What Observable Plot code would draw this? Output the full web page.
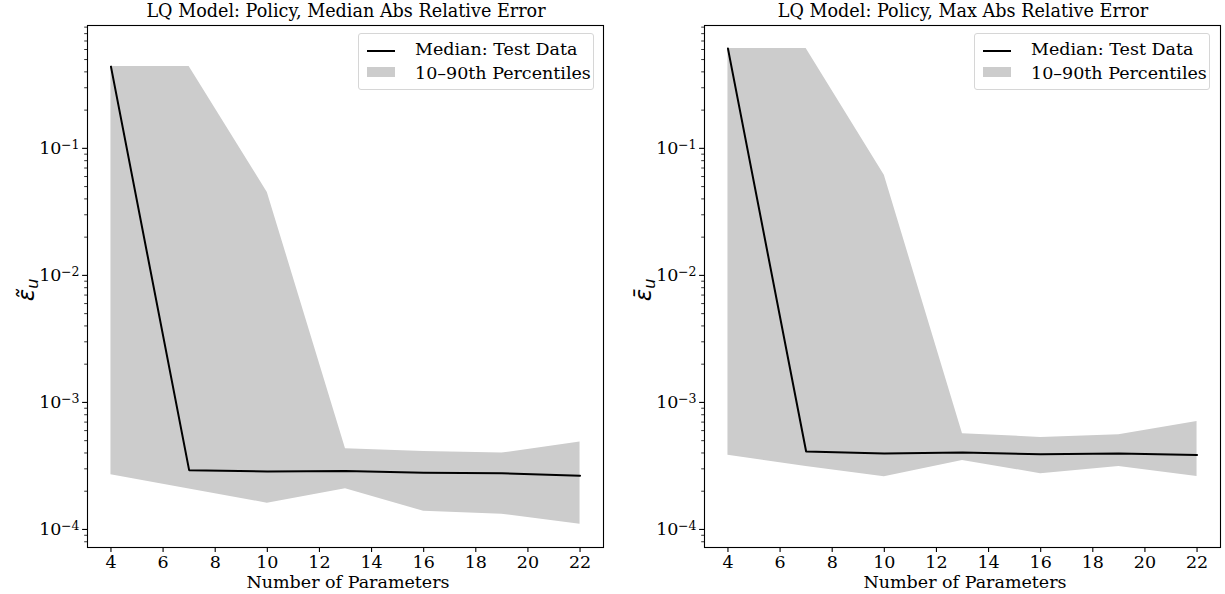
<!DOCTYPE html>
<html>
<head>
<meta charset="utf-8">
<script src="https://cdn.jsdelivr.net/npm/d3@7"></script>
<script src="https://cdn.jsdelivr.net/npm/@observablehq/plot@0.6"></script>
<style>
  body { margin: 0; background: #fff; }
  #wrap { position: relative; width: 1225px; height: 594px; overflow: hidden; font-family: "DejaVu Serif", serif; }
  .panel { position: absolute; top: 0; }
  .title { position: absolute; font-size: 17.6px; color: #000; white-space: nowrap; transform: translateX(-50%); }
  .xlabel { position: absolute; font-size: 17.5px; color: #000; white-space: nowrap; transform: translateX(-50%); }
  .ylabel { position: absolute; font-family: "DejaVu Sans", sans-serif; font-size: 23px; font-style: italic; white-space: nowrap; transform: translate(-50%, -50%) rotate(-90deg); }
  .ylabel sub { font-size: 16px; vertical-align: -4px; }
  .legend { position: absolute; border: 1px solid #d6d6d6; border-radius: 3px; background: rgba(255,255,255,0.8); font-size: 17.5px; box-sizing: border-box; }
  .legend .ln { position: absolute; height: 2px; background: #000; }
  .legend .patch { position: absolute; background: #cccccc; }
  .legend .txt { position: absolute; white-space: nowrap; }
</style>
</head>
<body>
<div id="wrap"></div>
<script>
// ---- data ----
const params = [4, 7, 10, 13, 16, 19, 22];
const medianMedErr = [0.44, 2.93e-4, 2.86e-4, 2.88e-4, 2.79e-4, 2.77e-4, 2.65e-4];
const p10MedErr    = [2.70e-4, 2.08e-4, 1.61e-4, 2.09e-4, 1.39e-4, 1.32e-4, 1.10e-4];
const p90MedErr    = [0.44, 0.44, 0.045, 4.32e-4, 4.11e-4, 3.99e-4, 4.87e-4];
const medianMaxErr = [0.61, 4.11e-4, 3.96e-4, 4.03e-4, 3.90e-4, 3.96e-4, 3.85e-4];
const p10MaxErr    = [3.83e-4, 3.13e-4, 2.60e-4, 3.49e-4, 2.75e-4, 3.13e-4, 2.61e-4];
const p90MaxErr    = [0.61, 0.61, 0.0613, 5.68e-4, 5.30e-4, 5.57e-4, 7.08e-4];
const xTicks = [4, 6, 8, 10, 12, 14, 16, 18, 20, 22];
const yMajor = [1e-4, 1e-3, 1e-2, 1e-1];
const yMajorBase = "10";
const yMajorExp = ["\u22124", "\u22123", "\u22122", "\u22121"];
const titles = ["LQ Model: Policy, Median Abs Relative Error", "LQ Model: Policy, Max Abs Relative Error"];
const legendLabels = ["Median: Test Data", "10\u201390th Percentiles"];
const xLabel = "Number of Parameters";

const yMinor = [];
for (let e = -5; e <= 0; e++) for (let m = 2; m <= 9; m++) {
  const v = m * Math.pow(10, e);
  if (v > 7.21e-5 && v < 0.927) yMinor.push(v);
}

const panels = [
  { left: 0, width: 612, ml: 87, mr: 9, med: medianMedErr, lo: p10MedErr, hi: p90MedErr, title: titles[0], accent: "\u0303", legLeft: 358 },
  { left: 612, width: 613, ml: 92, mr: 5, med: medianMaxErr, lo: p10MaxErr, hi: p90MaxErr, title: titles[1], accent: "\u0304", legLeft: 974 }
];
const H = 594, MT = 25, MB = 47;
const wrap = document.getElementById("wrap");
const majorRows = yMajor.map((v, i) => ({ v, exp: yMajorExp[i] }));

panels.forEach((p) => {
  const rows = params.map((x, i) => ({ x, med: p.med[i], lo: p.lo[i], hi: p.hi[i] }));
  const chart = Plot.plot({
    width: p.width, height: H,
    marginLeft: p.ml, marginRight: p.mr, marginTop: MT, marginBottom: MB,
    style: { fontFamily: "DejaVu Serif", fontSize: "17.5px", color: "#000", background: "transparent" },
    x: { domain: [3.1, 22.9] },
    y: { type: "log", domain: [7.21e-5, 0.927] },
    marks: [
      Plot.areaY(rows, { x: "x", y1: "lo", y2: "hi", fill: "#cccccc" }),
      Plot.line(rows, { x: "x", y: "med", stroke: "#000", strokeWidth: 2 }),
      Plot.axisX({ ticks: xTicks, tickSize: 4.9, tickPadding: 3, tickFormat: d => String(d), label: null, strokeWidth: 1.1 }),
      Plot.axisY({ ticks: yMinor, tickSize: 2.8, tickFormat: () => "", label: null, strokeWidth: 0.8 }),
      Plot.axisY({ ticks: yMajor, tickSize: 4.9, tickFormat: () => "", label: null, strokeWidth: 1.1 }),
      Plot.text(majorRows, { y: "v", text: () => yMajorBase, frameAnchor: "left", textAnchor: "end", lineAnchor: "bottom", dx: -26, dy: 6, fontSize: 17.5 }),
      Plot.text(majorRows, { y: "v", text: "exp", frameAnchor: "left", textAnchor: "end", lineAnchor: "bottom", dx: -8, dy: 1, fontSize: 12.5 }),
      Plot.frame({ stroke: "#000", strokeWidth: 1.1 })
    ]
  });
  const div = document.createElement("div");
  div.className = "panel";
  div.style.left = p.left + "px";
  div.appendChild(chart);
  wrap.appendChild(div);

  const plotLeft = p.left + p.ml;
  const plotRight = p.left + p.width - p.mr;
  const cx = (plotLeft + plotRight) / 2;

  const t = document.createElement("div");
  t.className = "title"; t.textContent = p.title;
  t.style.left = (cx + 1) + "px"; t.style.top = "1px";
  wrap.appendChild(t);

  const xl = document.createElement("div");
  xl.className = "xlabel"; xl.textContent = xLabel;
  xl.style.left = (cx + 3) + "px"; xl.style.top = "572px";
  wrap.appendChild(xl);

  const yl = document.createElement("div");
  yl.className = "ylabel";
  yl.innerHTML = "\u03B5" + p.accent + "<sub>u</sub>";
  yl.style.left = (plotLeft - 60) + "px"; yl.style.top = "290px";
  wrap.appendChild(yl);

  const lg = document.createElement("div");
  lg.className = "legend";
  lg.style.left = p.legLeft + "px"; lg.style.top = "33px";
  lg.style.width = "236px"; lg.style.height = "57px";
  lg.innerHTML =
    '<div class="ln" style="left:8px;width:28px;top:16px"></div>' +
    '<div class="txt" style="left:56px;top:5px">' + legendLabels[0] + '</div>' +
    '<div class="patch" style="left:8px;width:28px;top:33px;height:10px"></div>' +
    '<div class="txt" style="left:56px;top:29px">' + legendLabels[1] + '</div>';
  wrap.appendChild(lg);
});
</script>
</body>
</html>
